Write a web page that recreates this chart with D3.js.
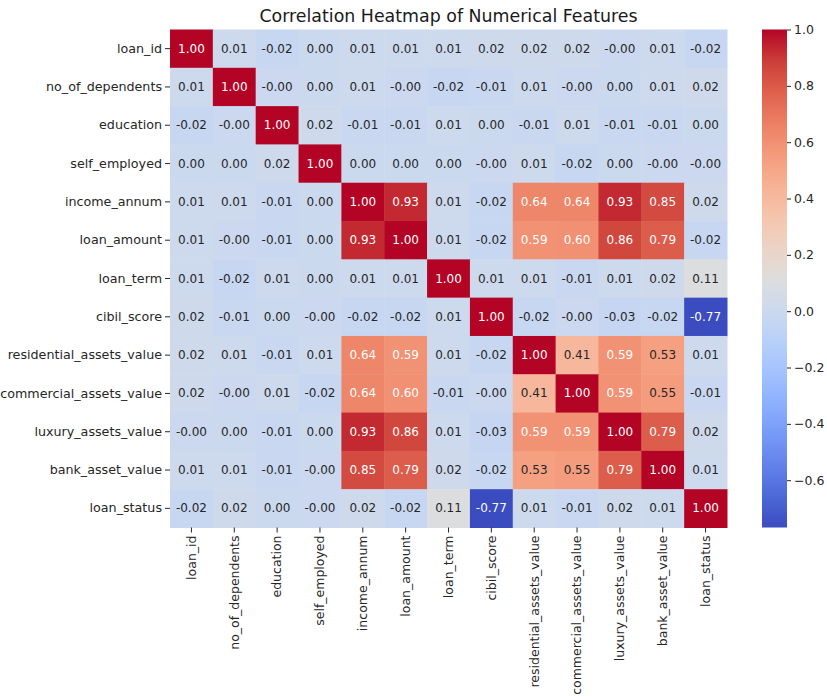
<!DOCTYPE html>
<html>
<head>
<meta charset="utf-8">
<script src="https://cdn.jsdelivr.net/npm/d3@7"></script>
<style>
  body { margin: 0; background: #fff; }
  svg text { font-family: "DejaVu Sans", sans-serif; }
</style>
</head>
<body>
<div id="chart"></div>
<script>
// feature names (rows and columns)
const features = ["loan_id", "no_of_dependents", "education", "self_employed", "income_annum",
  "loan_amount", "loan_term", "cibil_score", "residential_assets_value",
  "commercial_assets_value", "luxury_assets_value", "bank_asset_value", "loan_status"];

// correlation matrix (-0.001 = shown as -0.00)
const corr = [
  [1.00, 0.01, -0.02, 0.00, 0.01, 0.01, 0.01, 0.02, 0.02, 0.02, -0.001, 0.01, -0.02],
  [0.01, 1.00, -0.001, 0.00, 0.01, -0.001, -0.02, -0.01, 0.01, -0.001, 0.00, 0.01, 0.02],
  [-0.02, -0.001, 1.00, 0.02, -0.01, -0.01, 0.01, 0.00, -0.01, 0.01, -0.01, -0.01, 0.00],
  [0.00, 0.00, 0.02, 1.00, 0.00, 0.00, 0.00, -0.001, 0.01, -0.02, 0.00, -0.001, -0.001],
  [0.01, 0.01, -0.01, 0.00, 1.00, 0.93, 0.01, -0.02, 0.64, 0.64, 0.93, 0.85, 0.02],
  [0.01, -0.001, -0.01, 0.00, 0.93, 1.00, 0.01, -0.02, 0.59, 0.60, 0.86, 0.79, -0.02],
  [0.01, -0.02, 0.01, 0.00, 0.01, 0.01, 1.00, 0.01, 0.01, -0.01, 0.01, 0.02, 0.11],
  [0.02, -0.01, 0.00, -0.001, -0.02, -0.02, 0.01, 1.00, -0.02, -0.001, -0.03, -0.02, -0.77],
  [0.02, 0.01, -0.01, 0.01, 0.64, 0.59, 0.01, -0.02, 1.00, 0.41, 0.59, 0.53, 0.01],
  [0.02, -0.001, 0.01, -0.02, 0.64, 0.60, -0.01, -0.001, 0.41, 1.00, 0.59, 0.55, -0.01],
  [-0.001, 0.00, -0.01, 0.00, 0.93, 0.86, 0.01, -0.03, 0.59, 0.59, 1.00, 0.79, 0.02],
  [0.01, 0.01, -0.01, -0.001, 0.85, 0.79, 0.02, -0.02, 0.53, 0.55, 0.79, 1.00, 0.01],
  [-0.02, 0.02, 0.00, -0.001, 0.02, -0.02, 0.11, -0.77, 0.01, -0.01, 0.02, 0.01, 1.00]
];

const colorbarTicks = [-0.6, -0.4, -0.2, 0.0, 0.2, 0.4, 0.6, 0.8, 1.0];

// matplotlib coolwarm, sampled every 1/16
const coolwarm = ["#3b4cc0", "#4d68d7", "#6282ea", "#779af7", "#8db0fe", "#a3c2fe", "#b8d0f9",
  "#ccd9ee", "#dddddd", "#ecd3c5", "#f5c4ad", "#f7b194", "#f49a7b", "#ec7f63", "#de604d",
  "#cb3e38", "#b40426"];

const width = 827, height = 696;
const mLeft = 170, mRight = 727, mTop = 29.5, mBottom = 527.5;

const svg = d3.select("#chart").append("svg")
  .attr("width", width)
  .attr("height", height);

const vmin = -0.768, vmax = 1.0;

const x = d3.scaleBand().domain(features).range([mLeft, mRight]);
const y = d3.scaleBand().domain(features).range([mTop, mBottom]);
const color = d3.scaleSequential(d3.piecewise(d3.interpolateRgb, coolwarm)).domain([vmin, vmax]);

// seaborn picks white or dark text from the cell's luminance
function luminance(c) {
  const rgb = d3.rgb(c);
  const lin = [rgb.r, rgb.g, rgb.b].map(function(v) {
    v = v / 255;
    return v <= 0.03928 ? v / 12.92 : Math.pow((v + 0.055) / 1.055, 2.4);
  });
  return 0.2126 * lin[0] + 0.7152 * lin[1] + 0.0722 * lin[2];
}

function fmt(v) {
  return (v < 0 ? "-" : "") + Math.abs(v).toFixed(2);
}

const cells = [];
corr.forEach(function(row, i) {
  row.forEach(function(v, j) {
    cells.push({ row: features[i], col: features[j], value: v });
  });
});

svg.append("g").selectAll("rect")
  .data(cells)
  .enter()
  .append("rect")
  .attr("x", function(d) { return x(d.col); })
  .attr("y", function(d) { return y(d.row); })
  .attr("width", x.bandwidth() + 0.5)
  .attr("height", y.bandwidth() + 0.5)
  .attr("fill", function(d) { return color(d.value); });

svg.append("g").selectAll("text")
  .data(cells)
  .enter()
  .append("text")
  .attr("x", function(d) { return x(d.col) + x.bandwidth() / 2; })
  .attr("y", function(d) { return y(d.row) + y.bandwidth() / 2; })
  .attr("text-anchor", "middle")
  .attr("dominant-baseline", "central")
  .attr("font-size", 12)
  .attr("fill", function(d) { return luminance(color(d.value)) < 0.408 ? "#fff" : "#262626"; })
  .text(function(d) { return fmt(d.value); });

// axes
const yAxis = svg.append("g")
  .attr("transform", "translate(" + mLeft + ",0)")
  .call(d3.axisLeft(y).tickSize(5).tickPadding(3));
yAxis.select(".domain").remove();
yAxis.selectAll("text").attr("font-size", 12.7).attr("fill", "#262626");
yAxis.selectAll("line").attr("stroke", "#262626");

const xAxis = svg.append("g")
  .attr("transform", "translate(0," + mBottom + ")")
  .call(d3.axisBottom(x).tickSize(5).tickPadding(3));
xAxis.select(".domain").remove();
xAxis.selectAll("line").attr("stroke", "#262626");
xAxis.selectAll("text")
  .attr("font-size", 12.5)
  .attr("fill", "#262626")
  .attr("transform", "rotate(-90)")
  .attr("text-anchor", "end")
  .attr("dy", "0.35em")
  .attr("x", -8)
  .attr("y", 0);

// colorbar
const cbX = 762, cbW = 25;
const cy = d3.scaleLinear().domain([vmin, vmax]).range([mBottom, mTop]);

const grad = svg.append("defs").append("linearGradient")
  .attr("id", "cbar")
  .attr("x1", 0).attr("y1", 1).attr("x2", 0).attr("y2", 0);
grad.selectAll("stop")
  .data(d3.range(0, 1.0001, 1 / 32))
  .enter()
  .append("stop")
  .attr("offset", function(t) { return t; })
  .attr("stop-color", function(t) { return color(vmin + t * (vmax - vmin)); });

svg.append("rect")
  .attr("x", cbX)
  .attr("y", mTop)
  .attr("width", cbW)
  .attr("height", mBottom - mTop)
  .attr("fill", "url(#cbar)");

const cAxis = svg.append("g")
  .attr("transform", "translate(" + (cbX + cbW) + ",0)")
  .call(d3.axisRight(cy).tickValues(colorbarTicks).tickFormat(d3.format(".1f")).tickSize(4).tickPadding(3));
cAxis.select(".domain").remove();
cAxis.selectAll("text").attr("font-size", 12.5).attr("fill", "#262626");
cAxis.selectAll("line").attr("stroke", "#262626");

// title
svg.append("text")
  .attr("x", (mLeft + mRight) / 2)
  .attr("y", 22)
  .attr("text-anchor", "middle")
  .attr("font-size", 17.4)
  .attr("fill", "#1a1a1a")
  .text("Correlation Heatmap of Numerical Features");
</script>
</body>
</html>
